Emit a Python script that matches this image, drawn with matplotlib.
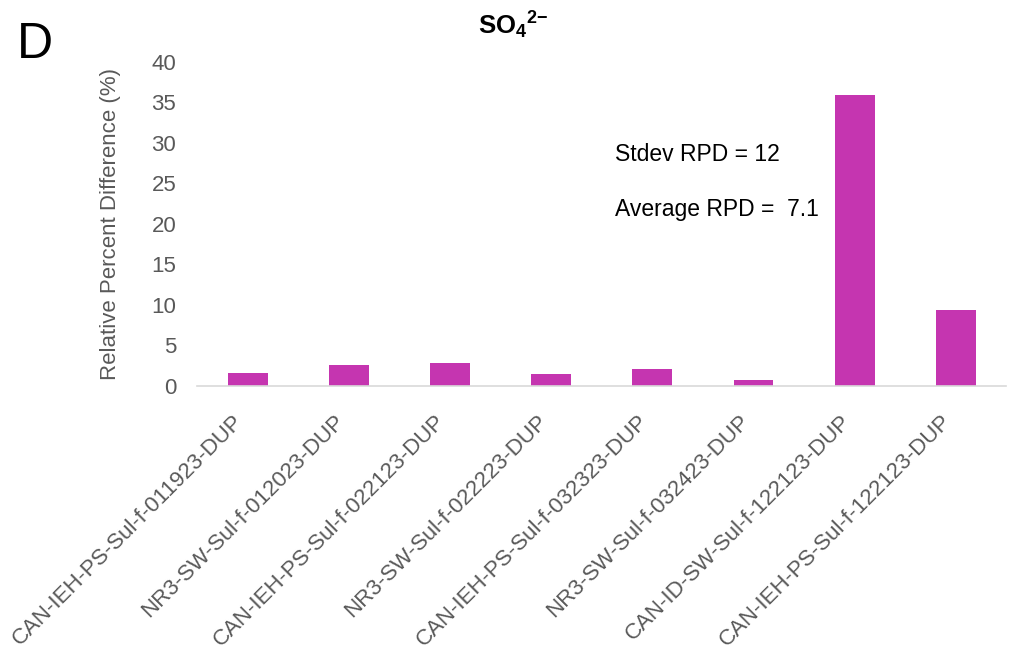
import numpy as np
import matplotlib.pyplot as plt
import matplotlib.transforms as mtransforms

plt.rcParams['font.family'] = ['Liberation Sans', 'DejaVu Sans']
plt.rcParams['mathtext.fontset'] = 'custom'
plt.rcParams['mathtext.rm'] = 'Liberation Sans'
plt.rcParams['mathtext.bf'] = 'Liberation Sans:bold'

samples = ['CAN-IEH-PS-Sul-f-011923-DUP', 'NR3-SW-Sul-f-012023-DUP', 'CAN-IEH-PS-Sul-f-022123-DUP',
           'NR3-SW-Sul-f-022223-DUP', 'CAN-IEH-PS-Sul-f-032323-DUP', 'NR3-SW-Sul-f-032423-DUP',
           'CAN-ID-SW-Sul-f-122123-DUP', 'CAN-IEH-PS-Sul-f-122123-DUP']
rpd = [1.6, 2.5, 2.8, 1.5, 2.1, 0.75, 35.9, 9.35]
yticks = [0, 5, 10, 15, 20, 25, 30, 35, 40]

fig = plt.figure(figsize=(10.13, 6.67), dpi=100)
ax = fig.add_axes([0.1945, 0.4217, 0.799, 0.4853])
x = np.arange(len(samples))
ax.bar(x, rpd, width=0.395, color='#C535B0')
ax.set_xlim(-0.5, len(samples) - 0.5)
ax.set_ylim(0, 40)
ax.set_yticks(yticks)
ax.set_xticks(x)
ax.set_xticklabels(samples, rotation=45, ha='right', rotation_mode='anchor')
ax.tick_params(axis='both', colors='#595959', labelsize=16, length=0)
ax.tick_params(axis='y', pad=15)
ax.tick_params(axis='x', pad=18)
# nudge rotated labels a bit to the left, like the original
shift = mtransforms.ScaledTranslation(-15 / 100, 0, fig.dpi_scale_trans)
for lab in ax.get_xticklabels():
    lab.set_transform(lab.get_transform() + shift)
for s in ['top', 'right', 'left']:
    ax.spines[s].set_visible(False)
ax.spines['bottom'].set_color('#D9D9D9')
ax.spines['bottom'].set_linewidth(1.2)
ax.set_ylabel('Relative Percent Difference (%)', color='#595959', fontsize=16, labelpad=22)

ax.text(0.516, 0.713, 'Stdev RPD = 12', transform=ax.transAxes, fontsize=16.5, va='center')
ax.text(0.516, 0.543, 'Average RPD =  7.1', transform=ax.transAxes, fontsize=16.5, va='center')

fig.text(0.507, 0.963, r'$\mathbf{SO_4}^{\mathbf{2{-}}}$', ha='center', va='center', fontsize=18.5)
fig.text(0.017, 0.9325, 'D', fontsize=36, va='center')

fig.savefig('out.png', dpi=100)
